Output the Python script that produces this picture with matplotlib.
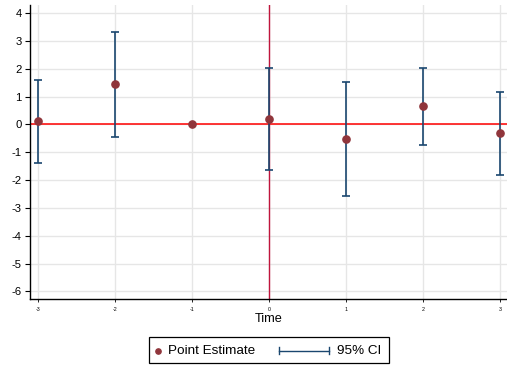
import numpy as np
import matplotlib
matplotlib.use("Agg")
import matplotlib.pyplot as plt
from matplotlib.patches import Rectangle
from matplotlib.lines import Line2D

plt.rcParams['font.family'] = ['Liberation Sans', 'DejaVu Sans']

time = [-3, -2, -1, 0, 1, 2, 3]
estimate = [0.11, 1.44, 0.0, 0.18, -0.52, 0.65, -0.32]
ci_lower = [-1.39, -0.46, np.nan, -1.64, -2.58, -0.75, -1.82]
ci_upper = [1.60, 3.33, np.nan, 2.02, 1.54, 2.04, 1.15]
yticks = [4, 3, 2, 1, 0, -1, -2, -3, -4, -5, -6]
xticks = [-3, -2, -1, 0, 1, 2, 3]

W, H = 507, 365
fig = plt.figure(figsize=(W / 100, H / 100), dpi=100)
ax = fig.add_axes([30 / W, 1 - 299 / H, 477 / W, 294 / H])

navy = '#1a476f'
maroon = '#90353b'

t = np.array(time, dtype=float)
est = np.array(estimate)
lo = np.array(ci_lower)
hi = np.array(ci_upper)
mask = ~np.isnan(lo)

ax.axhline(0, color='red', lw=1.1, zorder=2)
ax.axvline(0, color='#c0143c', lw=1.0, zorder=2)

ax.errorbar(t[mask], (lo[mask] + hi[mask]) / 2,
            yerr=(hi[mask] - lo[mask]) / 2, fmt='none',
            ecolor=navy, elinewidth=1.2, capsize=2.7, capthick=1.2, zorder=3)
ax.plot(t, est, 'o', color=maroon, ms=5.2, mec=maroon, zorder=4)

ax.set_xlim(-3.104, 3.09)
ax.set_ylim(-6.27, 4.29)
ax.set_yticks(yticks)
ax.set_yticklabels([str(v) for v in yticks], fontsize=8.1)
ax.set_xticks(xticks)
ax.set_xticklabels([str(v) for v in xticks], fontsize=3.8)
ax.tick_params(axis='y', length=3.5, width=0.8, pad=2.5)
ax.tick_params(axis='x', length=2.5, width=0.6, pad=3)
ax.grid(True, color='#e6e6e6', lw=1.0, zorder=0)
ax.set_axisbelow(True)
for s in ['top', 'right']:
    ax.spines[s].set_visible(False)
for s in ['left', 'bottom']:
    ax.spines[s].set_linewidth(1.0)
    ax.spines[s].set_color('black')
ax.set_xlabel('Time', fontsize=9.2, labelpad=1)

# legend drawn manually in pixel coordinates
def fx(px):
    return px / W

def fy(py):
    return 1 - py / H

yc = 350.7
fig.patches.append(Rectangle((fx(149), fy(362.7)), fx(389) - fx(149), fy(336.7) - fy(362.7),
                             transform=fig.transFigure, fill=False, ec='black', lw=0.9))
fig.lines.append(Line2D([fx(158)], [fy(yc)], marker='o', ms=3.8, color=maroon,
                        transform=fig.transFigure))
fig.text(fx(168), fy(yc), 'Point Estimate', fontsize=9.7, va='center', ha='left')
fig.lines.append(Line2D([fx(279), fx(329)], [fy(yc), fy(yc)], color=navy, lw=1.0,
                        transform=fig.transFigure))
for xx in (279, 329):
    fig.lines.append(Line2D([fx(xx), fx(xx)], [fy(yc - 3.5), fy(yc + 3.5)], color=navy, lw=1.0,
                            transform=fig.transFigure))
fig.text(fx(337), fy(yc), '95% CI', fontsize=9.7, va='center', ha='left')

fig.savefig('out.png', dpi=100)
